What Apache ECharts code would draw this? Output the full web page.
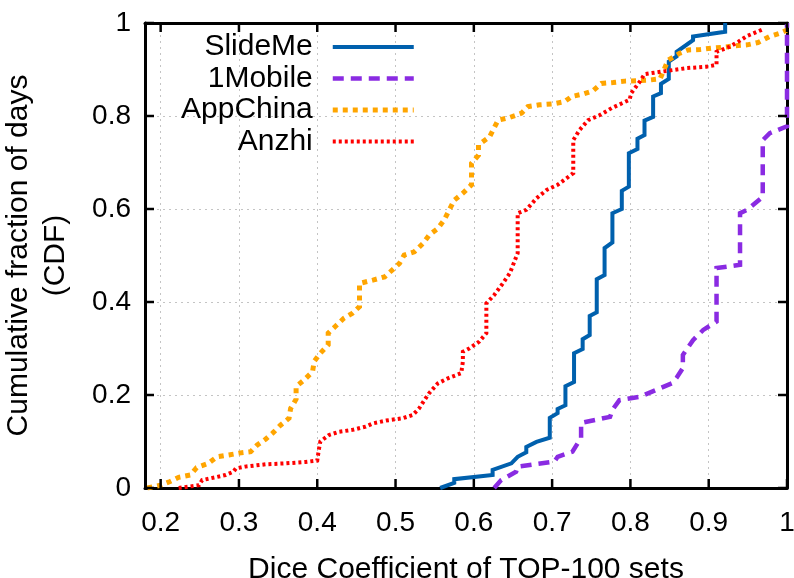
<!DOCTYPE html>
<html><head><meta charset="utf-8">
<script src="https://cdn.jsdelivr.net/npm/echarts@6/dist/echarts.min.js"></script>
<style>html,body{margin:0;padding:0;background:#fff}#c{width:794px;height:578px}</style>
</head><body><div id="c"></div>
<script>
const xMin = 0.18, xMax = 1, yMin = 0, yMax = 1;
const xTicks = [0.2, 0.3, 0.4, 0.5, 0.6, 0.7, 0.8, 0.9, 1];
const xTickLabels = ['0.2', '0.3', '0.4', '0.5', '0.6', '0.7', '0.8', '0.9', '1'];
const yTicks = [0, 0.2, 0.4, 0.6, 0.8, 1];
const yTickLabels = ['0', '0.2', '0.4', '0.6', '0.8', '1'];
const seriesNames = ['SlideMe', '1Mobile', 'AppChina', 'Anzhi'];
const xTitle = 'Dice Coefficient of TOP-100 sets';
const yTitle = 'Cumulative fraction of days\n(CDF)';

const slideMe = [
  [0.557,0],[0.575,0.011],[0.575,0.019],[0.624,0.028],[0.624,0.039],[0.648,0.053],[0.656,0.067],
  [0.667,0.077],[0.667,0.088],[0.680,0.099],[0.697,0.108],[0.697,0.151],[0.707,0.161],[0.707,0.170],
  [0.717,0.178],[0.717,0.219],[0.728,0.228],[0.728,0.290],[0.739,0.299],[0.739,0.320],[0.748,0.329],
  [0.748,0.370],[0.757,0.378],[0.757,0.449],[0.767,0.458],[0.767,0.516],[0.777,0.528],[0.777,0.591],
  [0.789,0.600],[0.789,0.639],[0.798,0.648],[0.798,0.720],[0.809,0.729],[0.809,0.751],[0.818,0.759],
  [0.818,0.790],[0.829,0.798],[0.829,0.842],[0.839,0.849],[0.839,0.869],[0.849,0.880],[0.849,0.917],
  [0.859,0.928],[0.859,0.938],[0.880,0.963],[0.880,0.971],[0.921,0.981],[0.921,1.0]
];
const oneMobile = [
  [0.626,0],[0.635,0.017],[0.654,0.035],[0.656,0.046],[0.703,0.057],[0.707,0.067],[0.726,0.078],
  [0.737,0.108],[0.737,0.140],[0.774,0.153],[0.777,0.168],[0.786,0.189],[0.812,0.196],[0.854,0.226],
  [0.859,0.237],[0.867,0.258],[0.867,0.286],[0.880,0.318],[0.893,0.340],[0.910,0.358],[0.910,0.473],
  [0.940,0.480],[0.940,0.591],[0.949,0.598],[0.969,0.626],[0.969,0.748],[0.978,0.763],[1.0,0.778],
  [1.0,1.0]
];
const appChina = [
  [0.183,0],[0.200,0.006],[0.212,0.014],[0.223,0.023],[0.238,0.028],[0.246,0.044],[0.261,0.053],
  [0.272,0.067],[0.287,0.071],[0.300,0.075],[0.315,0.078],[0.323,0.092],[0.334,0.105],[0.343,0.118],
  [0.353,0.135],[0.364,0.150],[0.366,0.171],[0.373,0.191],[0.373,0.218],[0.383,0.232],[0.394,0.250],
  [0.396,0.272],[0.404,0.290],[0.414,0.308],[0.414,0.333],[0.424,0.349],[0.434,0.365],[0.445,0.376],
  [0.454,0.390],[0.454,0.440],[0.471,0.447],[0.486,0.454],[0.496,0.469],[0.505,0.483],[0.511,0.501],
  [0.524,0.508],[0.535,0.526],[0.543,0.544],[0.554,0.558],[0.562,0.576],[0.575,0.619],[0.586,0.634],
  [0.597,0.652],[0.597,0.698],[0.606,0.716],[0.606,0.738],[0.620,0.755],[0.631,0.791],[0.646,0.797],
  [0.661,0.806],[0.669,0.820],[0.684,0.824],[0.701,0.826],[0.716,0.831],[0.725,0.842],[0.739,0.847],
  [0.752,0.854],[0.763,0.870],[0.778,0.872],[0.793,0.875],[0.808,0.876],[0.823,0.877],[0.838,0.880],
  [0.848,0.920],[0.863,0.935],[0.874,0.942],[0.889,0.943],[0.904,0.946],[0.919,0.948],[0.934,0.951],
  [0.949,0.953],[0.963,0.958],[0.978,0.971],[0.991,0.978],[1.0,0.985]
];
const anzhi = [
  [0.223,0],[0.236,0.003],[0.249,0.006],[0.253,0.017],[0.270,0.023],[0.283,0.028],[0.293,0.035],
  [0.296,0.042],[0.308,0.046],[0.334,0.051],[0.360,0.053],[0.385,0.056],[0.400,0.059],[0.402,0.082],
  [0.404,0.100],[0.415,0.114],[0.428,0.121],[0.445,0.125],[0.462,0.132],[0.471,0.139],[0.488,0.145],
  [0.509,0.150],[0.522,0.157],[0.530,0.171],[0.537,0.189],[0.543,0.204],[0.554,0.225],[0.567,0.236],
  [0.584,0.247],[0.586,0.272],[0.586,0.293],[0.594,0.300],[0.607,0.315],[0.616,0.333],[0.616,0.397],
  [0.626,0.415],[0.637,0.440],[0.646,0.462],[0.656,0.505],[0.656,0.591],[0.667,0.598],[0.680,0.623],
  [0.693,0.641],[0.707,0.652],[0.727,0.677],[0.727,0.748],[0.735,0.770],[0.746,0.791],[0.761,0.802],
  [0.776,0.817],[0.799,0.835],[0.801,0.849],[0.812,0.874],[0.818,0.890],[0.838,0.895],[0.855,0.899],
  [0.872,0.903],[0.897,0.906],[0.910,0.910],[0.910,0.938],[0.927,0.949],[0.938,0.960],[0.949,0.972],
  [0.970,0.987]
];

const FONT = 'Liberation Sans';
const styles = [
  {color: '#0060ad', width: 4, type: 'solid'},
  {color: '#8a2be2', width: 4.5, type: [11, 7]},
  {color: '#ffa500', width: 5, type: [5, 5]},
  {color: '#ff0000', width: 4, type: [3, 3]}
];
const datasets = [slideMe, oneMobile, appChina, anzhi];
const TICK_LEN = 9, TICK_W = 2.5, TICK_COLOR = '#000';

const chart = echarts.init(document.getElementById('c'), null, {renderer: 'canvas'});
const labelFmt = v => {
  const i = xTicks.findIndex(t => Math.abs(t - v) < 1e-6);
  return i >= 0 ? xTickLabels[i] : '';
};
const yFmt = v => {
  const i = yTicks.findIndex(t => Math.abs(t - v) < 1e-6);
  return i >= 0 ? yTickLabels[i] : '';
};
const axisLineStyle = () => ({show: true, onZero: false, lineStyle: {color: '#000', width: 3}});
const gridLine = () => ({show: true, lineStyle: {color: '#c4c4c4', width: 1, type: [2, 4]}});

chart.setOption({
  animation: false,
  backgroundColor: '#fff',
  grid: {left: 145, right: 7, top: 23, bottom: 90, containLabel: false, outerBoundsMode: 'none'},
  xAxis: [
    {
      type: 'value', min: xMin, max: xMax, position: 'bottom',
      axisLine: axisLineStyle(),
      axisTick: {show: false, customValues: xTicks},
      axisLabel: {customValues: xTicks, formatter: labelFmt, fontSize: 28, fontFamily: FONT, color: '#000', margin: 21},
      splitLine: gridLine(),
      name: xTitle, nameLocation: 'middle', nameGap: 70,
      nameTextStyle: {fontSize: 30, fontFamily: FONT, color: '#000', lineHeight: 24}
    },
    {
      type: 'value', min: xMin, max: xMax, position: 'top',
      axisLine: axisLineStyle(),
      axisTick: {show: false},
      axisLabel: {show: false},
      splitLine: {show: false}
    }
  ],
  yAxis: [
    {
      type: 'value', min: yMin, max: yMax, interval: 0.2, position: 'left',
      axisLine: axisLineStyle(), axisTick: {show: false},
      axisLabel: {formatter: yFmt, fontSize: 28, fontFamily: FONT, color: '#000', margin: 14},
      splitLine: gridLine(),
      name: yTitle, nameLocation: 'middle', nameGap: 71, nameRotate: 90,
      nameTextStyle: {fontSize: 30, fontFamily: FONT, color: '#000', lineHeight: 37, align: 'center'}
    },
    {
      type: 'value', min: yMin, max: yMax, interval: 0.2, position: 'right',
      axisLine: axisLineStyle(), axisTick: {show: false},
      axisLabel: {show: false}, splitLine: {show: false}
    }
  ],
  legend: {
    orient: 'vertical', left: 181, top: 32, align: 'right', padding: 0,
    itemWidth: 81, itemHeight: 14, itemGap: 1.5,
    itemStyle: {opacity: 0},
    lineStyle: {width: 'inherit', type: 'inherit', cap: 'butt'},
    textStyle: {fontSize: 30, fontFamily: FONT, color: '#000', lineHeight: 30, padding: [0, 15, 0, 0]},
    data: seriesNames
  },
  series: seriesNames.map((n, i) => ({
    name: n, type: 'line', data: datasets[i], showSymbol: false, symbol: 'none',
    xAxisIndex: 0, yAxisIndex: 0,
    lineStyle: {color: styles[i].color, width: styles[i].width, type: styles[i].type, cap: 'butt', join: 'miter'},
    itemStyle: {color: styles[i].color},
    z: 2 + i
  }))
});

// Mirror tick marks on all four sides, placed through the chart's own axis scales.
const finder = {xAxisIndex: 0, yAxisIndex: 0};
const tickEls = [];
const mkTick = (x1, y1, x2, y2) => ({
  type: 'line', silent: true, z: 100,
  shape: {x1: x1, y1: y1, x2: x2, y2: y2},
  style: {stroke: TICK_COLOR, lineWidth: TICK_W}
});
xTicks.forEach(v => {
  const b = chart.convertToPixel(finder, [v, yMin]);
  const t = chart.convertToPixel(finder, [v, yMax]);
  tickEls.push(mkTick(b[0], b[1], b[0], b[1] - TICK_LEN));
  tickEls.push(mkTick(t[0], t[1], t[0], t[1] + TICK_LEN));
});
yTicks.forEach(v => {
  const l = chart.convertToPixel(finder, [xMin, v]);
  const r = chart.convertToPixel(finder, [xMax, v]);
  tickEls.push(mkTick(l[0], l[1], l[0] + TICK_LEN, l[1]));
  tickEls.push(mkTick(r[0], r[1], r[0] - TICK_LEN, r[1]));
});
chart.setOption({graphic: {elements: tickEls}});
</script></body></html>
